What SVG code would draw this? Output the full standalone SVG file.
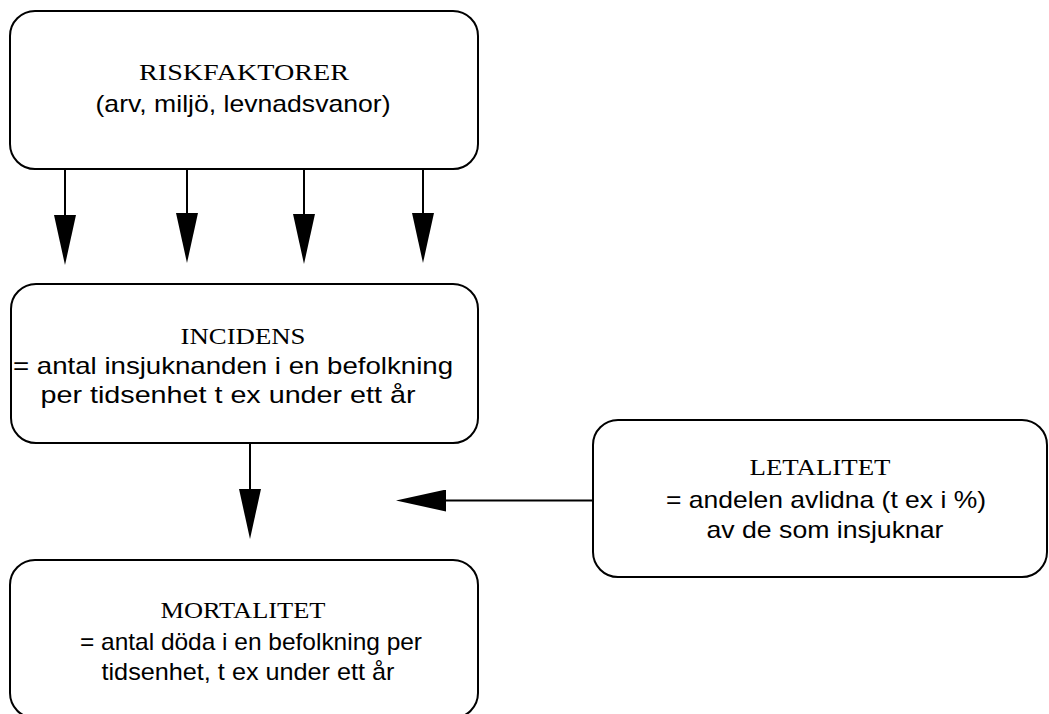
<svg xmlns="http://www.w3.org/2000/svg" width="1049" height="714" viewBox="0 0 1049 714">
<style>
.box{fill:#fff;stroke:#000;stroke-width:2}
.title{font-family:"Liberation Serif","Times New Roman",serif;font-size:23px;fill:#000;text-anchor:middle}
.body{font-family:"Liberation Sans",Arial,sans-serif;font-size:24px;fill:#000;text-anchor:middle}
.conn{stroke:#000;stroke-width:2;fill:none;marker-end:url(#ah)}
</style>
<defs>
<marker id="ah" viewBox="0 0 50 22" refX="0" refY="11" markerWidth="50" markerHeight="22" markerUnits="userSpaceOnUse" orient="auto">
<path d="M0,0 L50,11 L0,22 Z" fill="#000"/>
</marker>
</defs>
<g id="riskfaktorer">
<rect class="box" x="10" y="11" width="468" height="158" rx="25" ry="25"/>
<text class="title" x="244" y="80" textLength="210" lengthAdjust="spacingAndGlyphs">RISKFAKTORER</text>
<text class="body" x="243" y="112" textLength="295" lengthAdjust="spacingAndGlyphs">(arv, miljö, levnadsvanor)</text>
</g>
<g id="incidens">
<rect class="box" x="11" y="284" width="467" height="159" rx="25" ry="25"/>
<text class="title" x="243" y="344" textLength="125" lengthAdjust="spacingAndGlyphs">INCIDENS</text>
<text class="body" x="233" y="374" textLength="440" lengthAdjust="spacingAndGlyphs">= antal insjuknanden i en befolkning</text>
<text class="body" x="228" y="403" textLength="375" lengthAdjust="spacingAndGlyphs">per tidsenhet t ex under ett år</text>
</g>
<g id="letalitet">
<rect class="box" x="593" y="420" width="454" height="157" rx="25" ry="25"/>
<text class="title" x="820" y="475" textLength="141" lengthAdjust="spacingAndGlyphs">LETALITET</text>
<text class="body" x="826" y="508" textLength="320" lengthAdjust="spacingAndGlyphs">= andelen avlidna (t ex i %)</text>
<text class="body" x="825" y="538" textLength="237" lengthAdjust="spacingAndGlyphs">av de som insjuknar</text>
</g>
<g id="mortalitet">
<rect class="box" x="10" y="560" width="468" height="158" rx="25" ry="25"/>
<text class="title" x="243" y="618" textLength="165" lengthAdjust="spacingAndGlyphs">MORTALITET</text>
<text class="body" x="251" y="650" textLength="342" lengthAdjust="spacingAndGlyphs">= antal döda i en befolkning per</text>
<text class="body" x="248" y="680" textLength="293" lengthAdjust="spacingAndGlyphs">tidsenhet, t ex under ett år</text>
</g>
<g id="connectors">
<line class="conn" x1="65" y1="169" x2="65" y2="215"/>
<line class="conn" x1="187" y1="169" x2="187" y2="213"/>
<line class="conn" x1="304" y1="169" x2="304" y2="214"/>
<line class="conn" x1="423" y1="169" x2="423" y2="213"/>
<line class="conn" x1="250" y1="443" x2="250" y2="489"/>
<line class="conn" x1="593" y1="500.5" x2="446" y2="500.5"/>
</g>
</svg>
